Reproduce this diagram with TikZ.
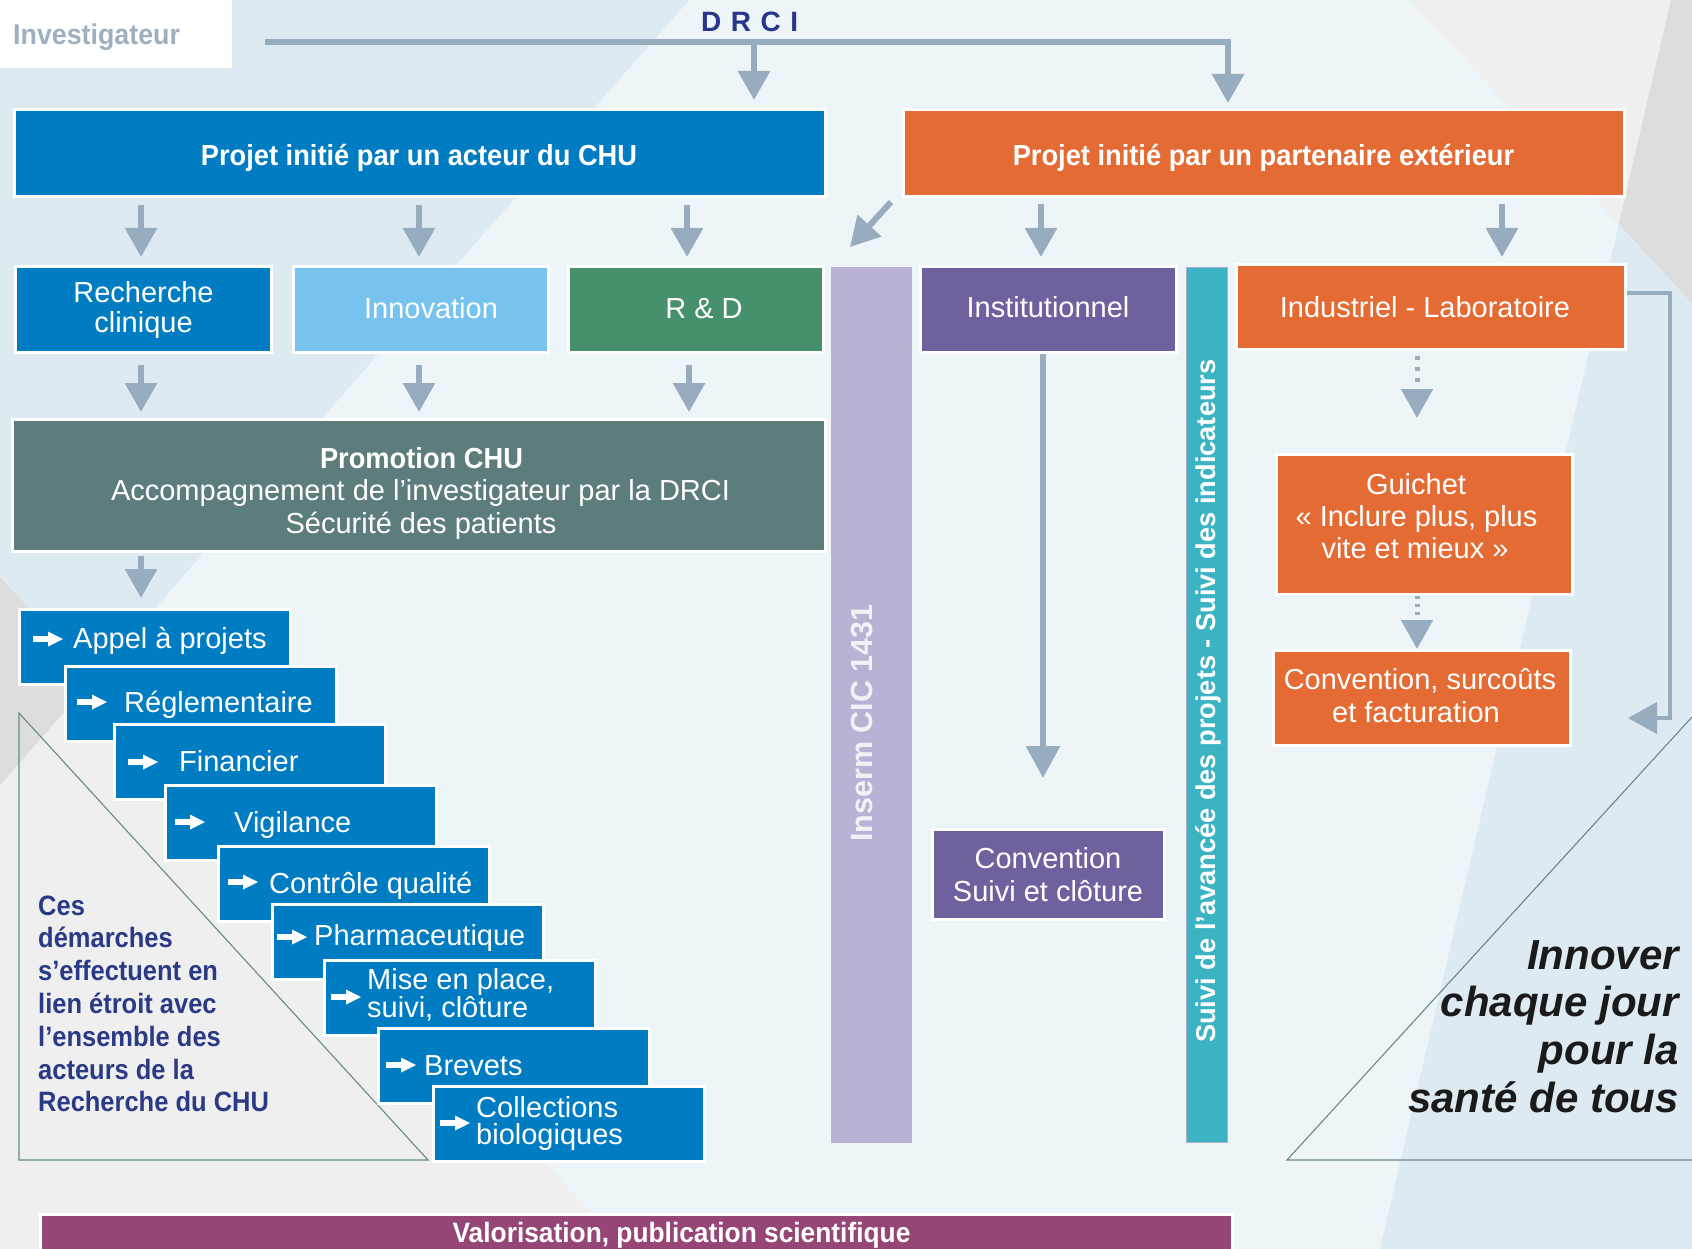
\documentclass[tikz,border=0pt]{standalone}
\usepackage{fontspec}
\setmainfont{Liberation Sans}
\newfontfamily\cbold{Liberation Sans Bold}[FakeStretch=0.94]
\newfontfamily\ncbold{Liberation Sans Bold}[FakeStretch=0.91]
\usetikzlibrary{arrows.meta}
\definecolor{bgbase}{HTML}{EEF5F9}
\definecolor{bgband}{HTML}{DEEAF2}
\definecolor{bggray}{HTML}{EFEFEF}
\definecolor{bgdark}{HTML}{DDDDDD}
\definecolor{chublue}{HTML}{007CC3}
\definecolor{orangec}{HTML}{E46B34}
\definecolor{lightblue}{HTML}{77C3EE}
\definecolor{greenc}{HTML}{46916B}
\definecolor{promoc}{HTML}{5C7D7B}
\definecolor{purplec}{HTML}{6F619E}
\definecolor{lilac}{HTML}{BAB2D5}
\definecolor{tealc}{HTML}{3CB3C3}
\definecolor{tealedge}{HTML}{A9B0D0}
\definecolor{valc}{HTML}{954576}
\definecolor{arrowc}{HTML}{97ACBF}
\definecolor{navyc}{HTML}{27368A}
\definecolor{textnavy}{HTML}{2B3A85}
\definecolor{invgray}{HTML}{9EAFC0}
\definecolor{trilinec}{HTML}{6A8888}
\definecolor{insermtxt}{HTML}{F3F1F8}
\definecolor{innovc}{HTML}{1A1A1A}
\newcommand\regf{\fontsize{29}{32}\selectfont}
\newcommand\hdf{\cbold\fontsize{29}{32}\selectfont}
\begin{document}
\begin{tikzpicture}[x=1pt,y=-1pt,
  box/.style={draw=white,line width=3pt,inner sep=0pt,anchor=north west},
  txt/.style={inner sep=0pt,text=white,font=\regf,anchor=base},
  hdtxt/.style={inner sep=0pt,text=white,font=\hdf,anchor=base},
  arr/.style={draw=arrowc,line width=6pt,-{Triangle[width=31pt,length=29pt]}},
  dotarr/.style={arr,line width=5pt,dash pattern=on 3.5pt off 7.5pt},
  stair/.style={box,fill=chublue,minimum width=271pt,minimum height=75pt},
  stxt/.style={txt,anchor=base west},
  triline/.style={draw=trilinec,line width=1.1pt},
  warrow/.pic={\fill[white] (0,-3) rectangle (17,3); \fill[white] (15,-7.5) -- (30,0) -- (15,7.5) -- cycle;}
]
\useasboundingbox (0,0) rectangle (1692,1249);
% background
\fill[bgbase] (0,0) rectangle (1692,1249);
\fill[bgband] (0,0) -- (689,0) -- (0,785) -- cycle;
\fill[bggray] (0,577) -- (625,1249) -- (0,1249) -- cycle;
\fill[bgdark] (0,577) -- (94,678) -- (0,785) -- cycle;
\fill[bgband] (1671,0) -- (1692,0) -- (1692,1249) -- (1380,1249) -- cycle;
\fill[bggray] (1409,0) -- (1692,0) -- (1692,303) -- cycle;
\fill[bgdark] (1671,0) -- (1692,0) -- (1692,303) -- (1618.7,224.3) -- cycle;
% triangles
\draw[triline] (19,713) -- (19,1160) -- (428,1160) -- cycle;
\draw[triline] (1692,717) -- (1287,1160) -- (1692,1160);
% investigateur
\node[fill=white,inner sep=0pt,anchor=north west,minimum width=232pt,minimum height=68pt] (invbox) at (0,0) {};
\node[inner sep=0pt,anchor=base west,text=invgray,font=\cbold\fontsize{28.5}{30}\selectfont] (invt) at (13,45) {Investigateur};
\node[inner sep=0pt,anchor=base west,text=navyc,font=\bfseries\fontsize{28}{30}\selectfont] (drci) at (701,32) {D\hspace{9.5pt}R\hspace{9.5pt}C\hspace{9.5pt}I};
% boxes
\node[box,fill=chublue,minimum width=811pt,minimum height=87pt] (chu) at (13,108) {};
\node[box,fill=orangec,minimum width=721pt,minimum height=87pt] (partner) at (902,108) {};
\node[box,fill=chublue,minimum width=256pt,minimum height=86pt] (rc) at (14,265) {};
\node[box,fill=lightblue,minimum width=255pt,minimum height=86pt] (innov) at (292,265) {};
\node[box,fill=greenc,minimum width=255pt,minimum height=86pt] (rd) at (567,265) {};
\node[box,fill=purplec,minimum width=256pt,minimum height=86pt] (inst) at (919,265) {};
\node[box,fill=orangec,minimum width=389pt,minimum height=85pt] (ind) at (1235,263) {};
\node[inner sep=0pt,anchor=north west,fill=lilac,minimum width=81pt,minimum height=876pt] (inserm) at (831,267) {};
\node[inner sep=0pt,anchor=north west,fill=tealc,draw=tealedge,line width=1pt,minimum width=41pt,minimum height=875pt] (teal) at (1186,267) {};
\node[box,fill=promoc,minimum width=813pt,minimum height=132pt] (promo) at (11,418) {};
\node[box,fill=orangec,minimum width=296pt,minimum height=140pt] (guichet) at (1275,453) {};
\node[box,fill=orangec,minimum width=297pt,minimum height=95pt] (convsur) at (1272,649) {};
\node[box,fill=purplec,minimum width=232pt,minimum height=90pt] (convsuivi) at (931,828) {};
\node[box,fill=valc,minimum width=1192pt,minimum height=50pt] (valor) at (39,1213) {};
% stairs
\node[stair] (s1) at (18,608) {};
\pic at (33,639) {warrow};
\node[stxt] (t1) at (73,648) {Appel à projets};
\node[stair] (s2) at (64,665) {};
\pic at (77,702) {warrow};
\node[stxt] (t2) at (124,712) {Réglementaire};
\node[stair] (s3) at (113,723) {};
\pic at (128,762) {warrow};
\node[stxt] (t3) at (179,771) {Financier};
\node[stair] (s4) at (164,784) {};
\pic at (175,822) {warrow};
\node[stxt] (t4) at (234,832) {Vigilance};
\node[stair] (s5) at (217,845) {};
\pic at (228,882) {warrow};
\node[stxt] (t5) at (269,893) {Contrôle qualité};
\node[stair] (s6) at (271,903) {};
\pic at (277,937) {warrow};
\node[stxt] (t6) at (314,945) {Pharmaceutique};
\node[stair] (s7) at (323,959) {};
\pic at (331,997) {warrow};
\node[stxt] (t7a) at (367,989) {Mise en place,};
\node[stxt] (t7b) at (367,1017) {suivi, clôture};
\node[stair] (s8) at (377,1027) {};
\pic at (386,1065) {warrow};
\node[stxt] (t8) at (424,1075) {Brevets};
\node[stair] (s9) at (432,1085) {};
\pic at (440,1123) {warrow};
\node[stxt] (t9a) at (476,1117) {Collections};
\node[stxt] (t9b) at (476,1144) {biologiques};
% texts
\node[hdtxt] (chut) at (419,166) {Projet initié par un acteur du CHU};
\node[hdtxt] (partnert) at (1263.5,166) {Projet initié par un partenaire extérieur};
\node[txt] (rct1) at (143.5,302) {Recherche};
\node[txt] (rct2) at (143.5,332) {clinique};
\node[txt] (innovt) at (431,319) {Innovation};
\node[txt] (rdt) at (704,319) {R \& D};
\node[txt] (instt) at (1048,318) {Institutionnel};
\node[txt] (indt) at (1425,317) {Industriel - Laboratoire};
\node[hdtxt] (promot1) at (421.5,468) {Promotion CHU};
\node[txt] (promot2) at (420.5,500) {Accompagnement de l’investigateur par la DRCI};
\node[txt] (promot3) at (421,533) {Sécurité des patients};
\node[txt] (guit1) at (1416,494) {Guichet};
\node[txt] (guit2) at (1416.5,526) {« Inclure plus, plus};
\node[txt] (guit3) at (1415,558) {vite et mieux »};
\node[txt] (cst1) at (1420,689) {Convention, surcoûts};
\node[txt] (cst2) at (1416,722) {et facturation};
\node[txt] (cvt1) at (1048,868) {Convention};
\node[txt] (cvt2) at (1048,901) {Suivi et clôture};
\node[hdtxt,font=\cbold\fontsize{28}{30}\selectfont] (valt) at (681.5,1242) {Valorisation, publication scientifique};
\node[rotate=90,anchor=base west,inner sep=0pt,text=insermtxt,font=\bfseries\fontsize{30.5}{32}\selectfont] (insermt) at (872,842) {Inserm CIC 1431};
\node[rotate=90,anchor=base west,inner sep=0pt,text=white,font=\bfseries\fontsize{27.2}{30}\selectfont] (tealt) at (1215,1043) {Suivi de l'avancée des projets - Suivi des indicateurs};
\foreach \t [count=\i from 0] in {Ces, démarches, s’effectuent en, lien étroit avec, l’ensemble des, acteurs de la, Recherche du CHU}
  \node[inner sep=0pt,anchor=base west,text=textnavy,font=\ncbold\fontsize{28}{30}\selectfont] (ces\i) at (38,{915+32.8*\i}) {\t};
\foreach \t [count=\i from 0] in {Innover, chaque jour, pour la, santé de tous}
  \node[inner sep=0pt,anchor=base east,text=innovc,font=\bfseries\itshape\fontsize{42}{46}\selectfont] (inn\i) at (1679,{969+47.7*\i}) {\t};
% connectors
\coordinate (drciL) at (265,42);
\coordinate (drciM) at (754,42);
\coordinate (drciR) at (1228,42);
\draw[arr,line join=miter,shorten >=5pt] (drciL) -| (partner.north -| drciR);
\draw[arr,shorten >=8pt] (drciM) -- (chu.north -| drciM);
\coordinate (xa) at (141,0);
\coordinate (xb) at (419,0);
\coordinate (xc) at (687,0);
\coordinate (xd) at (689,0);
\draw[arr,shorten <=7pt,shorten >=8pt] (chu.south -| xa) -- (rc.north -| xa);
\draw[arr,shorten <=7pt,shorten >=8pt] (chu.south -| xb) -- (innov.north -| xb);
\draw[arr,shorten <=7pt,shorten >=8pt] (chu.south -| xc) -- (rd.north -| xc);
\draw[arr,shorten <=11pt,shorten >=6pt] (rc.south -| xa) -- (promo.north -| xa);
\draw[arr,shorten <=11pt,shorten >=6pt] (innov.south -| xb) -- (promo.north -| xb);
\draw[arr,shorten <=11pt,shorten >=6pt] (rd.south -| xd) -- (promo.north -| xd);
\draw[arr,shorten <=3pt,shorten >=10pt] (promo.south -| xa) -- (s1.north -| xa);
\coordinate (xi) at (1041,0);
\coordinate (xj) at (1502,0);
\coordinate (xk) at (1043,0);
\coordinate (gx) at (1417,0);
\draw[arr,shorten <=6pt,shorten >=8pt] (partner.south -| xi) -- (inst.north -| xi);
\draw[arr,shorten <=6pt,shorten >=6pt] (partner.south -| xj) -- (ind.north -| xj);
\coordinate (dg1) at (891,202);
\coordinate (dg2) at (850,247);
\draw[arr] (dg1) -- (dg2);
\draw[arr,-{Triangle[width=33pt,length=32pt]},shorten >=50pt] (inst.south -| xk) -- (convsuivi.north -| xk);
\coordinate (br1) at (1625,293);
\coordinate (br2) at (1670,718);
\coordinate (br3) at (1628,718);
\draw[arr,line width=4.5pt,line join=miter] (ind.east |- br1) -| (br2) -- (br3);
\draw[dotarr,shorten <=5pt,shorten >=35pt] (ind.south -| gx) -- (guichet.north -| gx);
\draw[dotarr,dash pattern=on 3pt off 5pt] (guichet.south -| gx) -- (convsur.north -| gx);
\end{tikzpicture}
\end{document}
